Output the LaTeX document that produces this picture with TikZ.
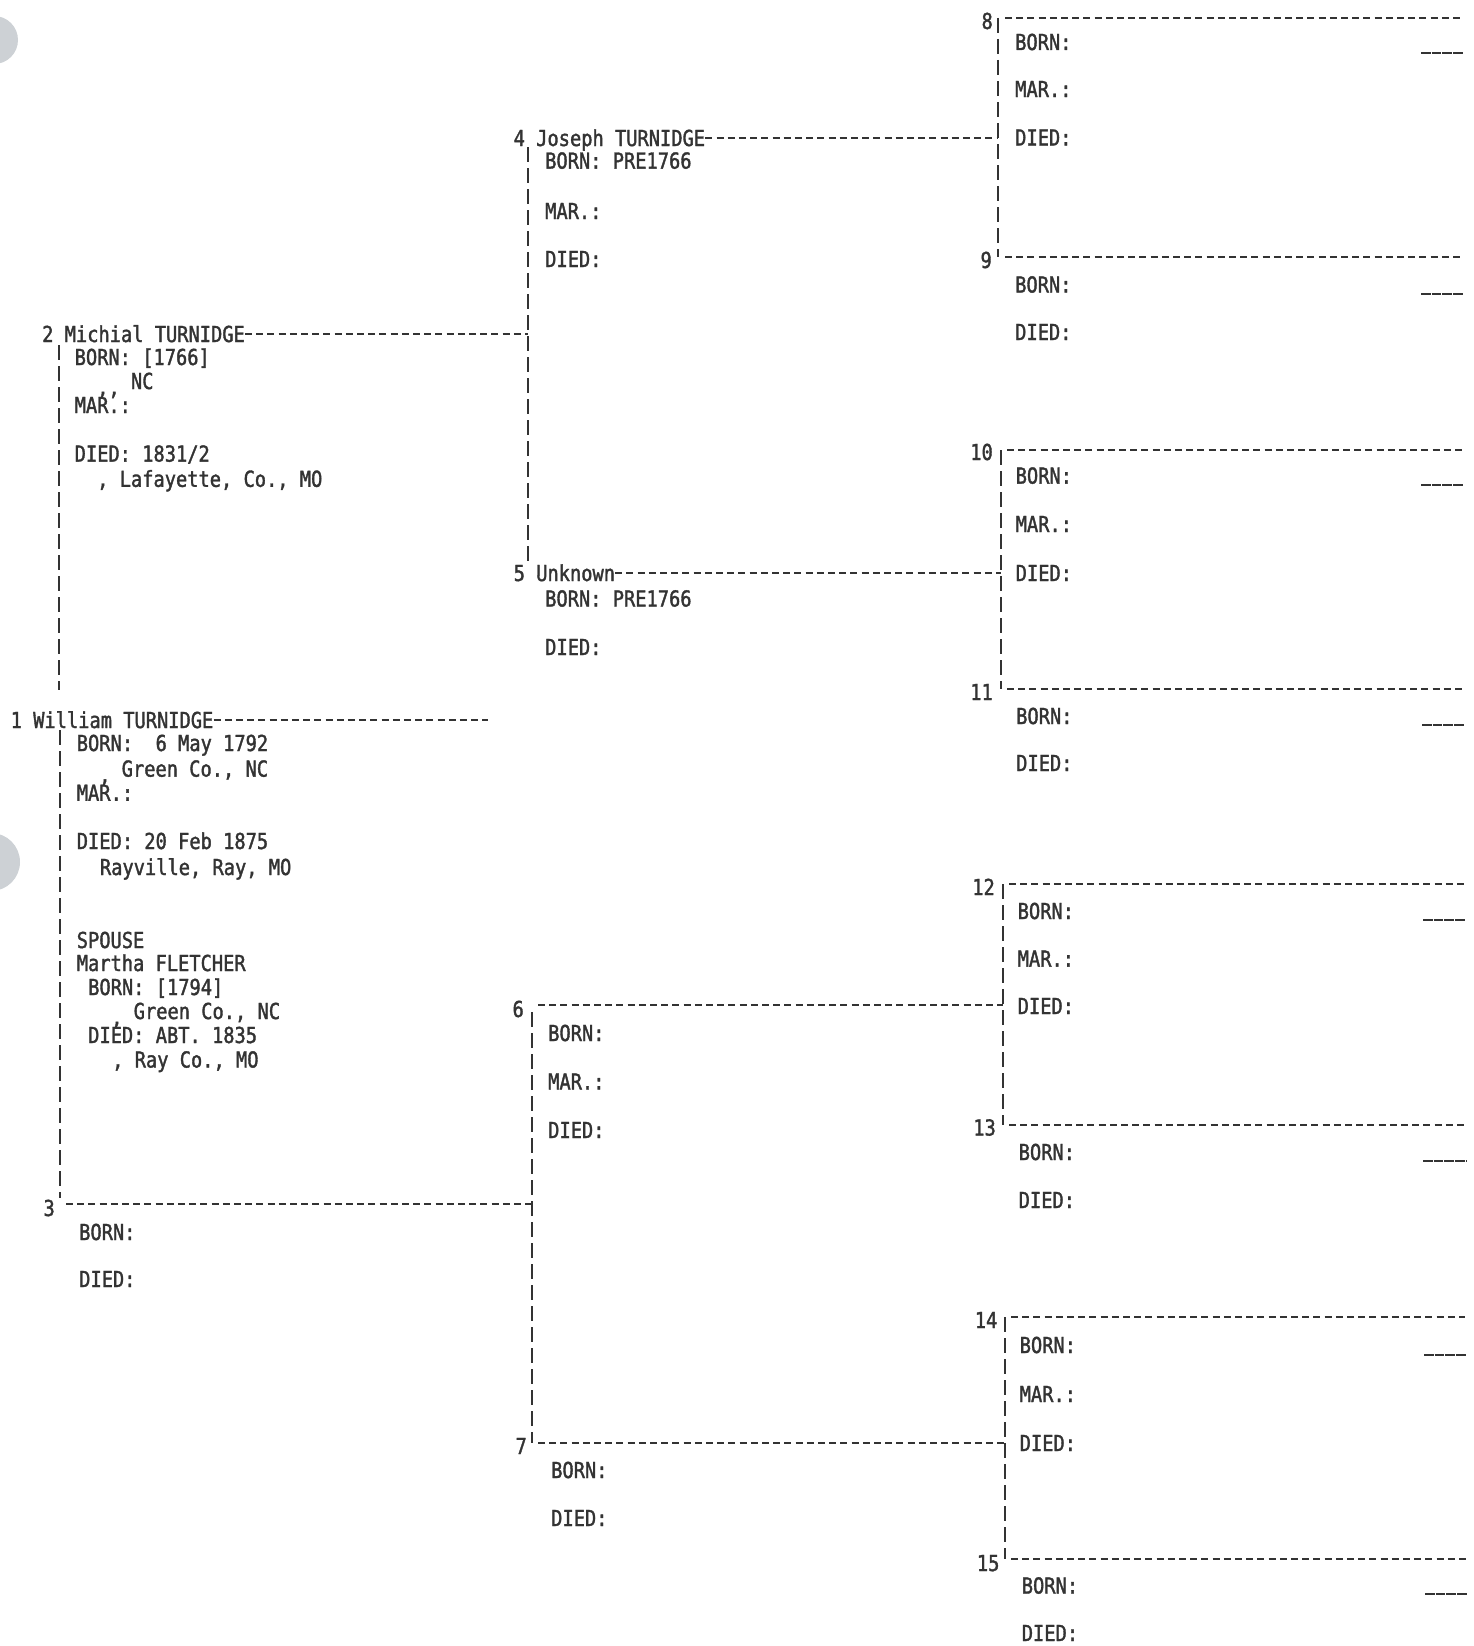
\documentclass[tikz,border=0pt]{standalone}
\usepackage{fontspec}
\newfontfamily\dotfont[FakeStretch=0.85,FakeBold=1.6]{DejaVu Sans Mono}
\definecolor{ink}{HTML}{333333}
\definecolor{holegray}{HTML}{CDD1D5}
\newcommand{\lowc}{\raisebox{-6pt}{,}}
\begin{document}
\begin{tikzpicture}[x=1pt,y=-1pt,
  txt/.style={font=\dotfont\fontsize{22}{24}\selectfont, text=ink, inner sep=0pt,
              text height=16pt, text depth=0pt, anchor=west},
  num/.style={txt, anchor=east},
  hline/.style={draw=ink, line width=2pt, dash pattern=on 7pt off 4.2pt},
  vline/.style={draw=ink, line width=1.8pt, dash pattern=on 15pt off 6pt},
  sline/.style={draw=ink, line width=2pt, dash pattern=on 9.5pt off 1.2pt},
  hole/.style={fill=holegray, draw=none}]
\useasboundingbox (0,0) rectangle (1473,1646);
\fill[white] (0,0) rectangle (1473,1646);
% hole punches
\fill[hole] (-6,40) circle[radius=24pt];
\fill[hole] (-9,862) circle[radius=29pt];

% ---------- generation 4 verticals ----------
\coordinate (v89t) at (998,18);    \coordinate (v89b) at (998,257);
\coordinate (v1011t) at (1001,450); \coordinate (v1011b) at (1001,689);
\coordinate (v1213t) at (1003,884);  \coordinate (v1213b) at (1003,1125);
\coordinate (v1415t) at (1005,1317); \coordinate (v1415b) at (1005,1559);
\draw[vline] (v89t) -- (v89b);
\draw[vline] (v1011t) -- (v1011b);
\draw[vline] (v1213t) -- (v1213b);
\draw[vline] (v1415t) -- (v1415b);

% ---------- person 8 ----------
\coordinate (s8) at (1005,18); \coordinate (e8) at (1463,18);
\draw[hline] (s8) -- (e8);
\node[num] (n8) at (993,21) {8};
\node[txt] (b8) at (1015,42) {BORN:};
\node[txt] (m8) at (1015,89) {MAR.:};
\node[txt] (d8) at (1015,137.5) {DIED:};
\coordinate (u8a) at (1421,53); \coordinate (u8b) at (1463,53);
\draw[sline] (u8a) -- (u8b);
% ---------- person 9 ----------
\coordinate (s9) at (1005,257); \coordinate (e9) at (1463,257);
\draw[hline] (s9) -- (e9);
\node[num] (n9) at (992,260) {9};
\node[txt] (b9) at (1015,284.5) {BORN:};
\node[txt] (d9) at (1015,332) {DIED:};
\coordinate (u9a) at (1421,294); \coordinate (u9b) at (1463,294);
\draw[sline] (u9a) -- (u9b);
% ---------- person 10 ----------
\coordinate (s10) at (1007,450); \coordinate (e10) at (1463,450);
\draw[hline] (s10) -- (e10);
\node[num] (n10) at (993,452) {10};
\node[txt] (b10) at (1015.5,475.6) {BORN:};
\node[txt] (m10) at (1015.5,524) {MAR.:};
\node[txt] (d10) at (1015.5,573) {DIED:};
\coordinate (u10a) at (1421,485); \coordinate (u10b) at (1463,485);
\draw[sline] (u10a) -- (u10b);
% ---------- person 11 ----------
\coordinate (s11) at (1007,689); \coordinate (e11) at (1464,689);
\draw[hline] (s11) -- (e11);
\node[num] (n11) at (993,692) {11};
\node[txt] (b11) at (1016,716) {BORN:};
\node[txt] (d11) at (1016,763) {DIED:};
\coordinate (u11a) at (1422,725); \coordinate (u11b) at (1464,725);
\draw[sline] (u11a) -- (u11b);
% ---------- person 12 ----------
\coordinate (s12) at (1009,884); \coordinate (e12) at (1465,884);
\draw[hline] (s12) -- (e12);
\node[num] (n12) at (995,887) {12};
\node[txt] (b12) at (1017.5,911) {BORN:};
\node[txt] (m12) at (1017.5,958.6) {MAR.:};
\node[txt] (d12) at (1017.5,1006) {DIED:};
\coordinate (u12a) at (1423,920); \coordinate (u12b) at (1465,920);
\draw[sline] (u12a) -- (u12b);
% ---------- person 13 ----------
\coordinate (s13) at (1009,1125); \coordinate (e13) at (1465,1125);
\draw[hline] (s13) -- (e13);
\node[num] (n13) at (996,1127.5) {13};
\node[txt] (b13) at (1018.5,1152) {BORN:};
\node[txt] (d13) at (1018.5,1200) {DIED:};
\coordinate (u13a) at (1423,1161); \coordinate (u13b) at (1466,1161);
\draw[sline] (u13a) -- (u13b);
% ---------- person 14 ----------
\coordinate (s14) at (1011,1317); \coordinate (e14) at (1465,1317);
\draw[hline] (s14) -- (e14);
\node[num] (n14) at (997.5,1320) {14};
\node[txt] (b14) at (1019.5,1345) {BORN:};
\node[txt] (m14) at (1019.5,1394) {MAR.:};
\node[txt] (d14) at (1019.5,1443) {DIED:};
\coordinate (u14a) at (1424,1355); \coordinate (u14b) at (1466,1355);
\draw[sline] (u14a) -- (u14b);
% ---------- person 15 ----------
\coordinate (s15) at (1011,1559); \coordinate (e15) at (1467,1559);
\draw[hline] (s15) -- (e15);
\node[num] (n15) at (999.6,1563) {15};
\node[txt] (b15) at (1021.6,1585.5) {BORN:};
\node[txt] (d15) at (1021.6,1633) {DIED:};
\coordinate (u15a) at (1425,1594); \coordinate (u15b) at (1467,1594);
\draw[sline] (u15a) -- (u15b);

% ---------- generation 3 ----------
\coordinate (v45t) at (528,147);  \coordinate (v45b) at (528,566);
\coordinate (v67t) at (532,1012); \coordinate (v67b) at (532,1443);
\draw[vline] (v45t) -- (v45b);
\draw[vline] (v67t) -- (v67b);

\node[txt] (p4) at (513.5,138) {4 Joseph TURNIDGE};
\draw[hline] (p4.east) -- (p4.east -| v89t);
\node[txt] (b4) at (545,160.6) {BORN: PRE1766};
\node[txt] (m4) at (545,211) {MAR.:};
\node[txt] (d4) at (545,259) {DIED:};

\node[txt] (p5) at (513.5,573) {5 Unknown};
\draw[hline] (p5.east) -- (p5.east -| v1011t);
\node[txt] (b5) at (545,598.5) {BORN: PRE1766};
\node[txt] (d5) at (545,647) {DIED:};

\node[num] (p6) at (524,1009) {6};
\coordinate (s6) at (538,1005);
\draw[hline] (s6) -- (s6 -| v1213t);
\node[txt] (b6) at (548,1033) {BORN:};
\node[txt] (m6) at (548,1081.5) {MAR.:};
\node[txt] (d6) at (548,1130) {DIED:};

\node[num] (p7) at (527,1446) {7};
\coordinate (s7) at (538,1443);
\draw[hline] (s7) -- (s7 -| v1415t);
\node[txt] (b7) at (551,1470) {BORN:};
\node[txt] (d7) at (551,1518) {DIED:};

% ---------- generations 1 and 2 ----------
\coordinate (v2t) at (59,345);  \coordinate (v2b) at (59,690);
\coordinate (v1t) at (60,730);  \coordinate (v1b) at (60,1198);
\draw[vline] (v2t) -- (v2b);
\draw[vline] (v1t) -- (v1b);

\node[txt] (p2) at (42,334) {2 Michial TURNIDGE};
\draw[hline] (p2.east) -- (p2.east -| v45t);
\node[txt] (b2) at (74.5,357) {BORN: [1766]};
\node[txt] (c2) at (97,381) {\lowc\lowc{} NC};
\node[txt] (m2) at (74.5,405) {MAR.:};
\node[txt] (d2) at (74.5,453.6) {DIED: 1831/2};
\node[txt] (l2) at (97,478.8) {, Lafayette, Co., MO};

\node[txt] (p1) at (10.5,720) {1 William TURNIDGE};
\coordinate (e1) at (488,720);
\draw[hline] (p1.east) -- (e1);
\node[txt] (b1) at (76.6,743) {BORN:\ \ 6 May 1792};
\node[txt] (g1) at (99,768.6) {\lowc{} Green Co., NC};
\node[txt] (m1) at (76.6,792.75) {MAR.:};
\node[txt] (d1) at (76.6,841) {DIED: 20 Feb 1875};
\node[txt] (r1) at (99.75,867) {Rayville, Ray, MO};
\node[txt] (sp) at (76.6,940) {SPOUSE};
\node[txt] (mf) at (76.6,963) {Martha FLETCHER};
\node[txt] (bs) at (88,987) {BORN: [1794]};
\node[txt] (gs) at (111,1011) {\lowc{} Green Co., NC};
\node[txt] (ds) at (88,1035) {DIED: ABT. 1835};
\node[txt] (rs) at (112,1059.5) {, Ray Co., MO};

\node[num] (p3) at (55,1208) {3};
\coordinate (s3) at (66,1204);
\draw[hline] (s3) -- (s3 -| v67t);
\node[txt] (b3) at (79,1232) {BORN:};
\node[txt] (d3) at (79,1279) {DIED:};
\end{tikzpicture}
\end{document}
